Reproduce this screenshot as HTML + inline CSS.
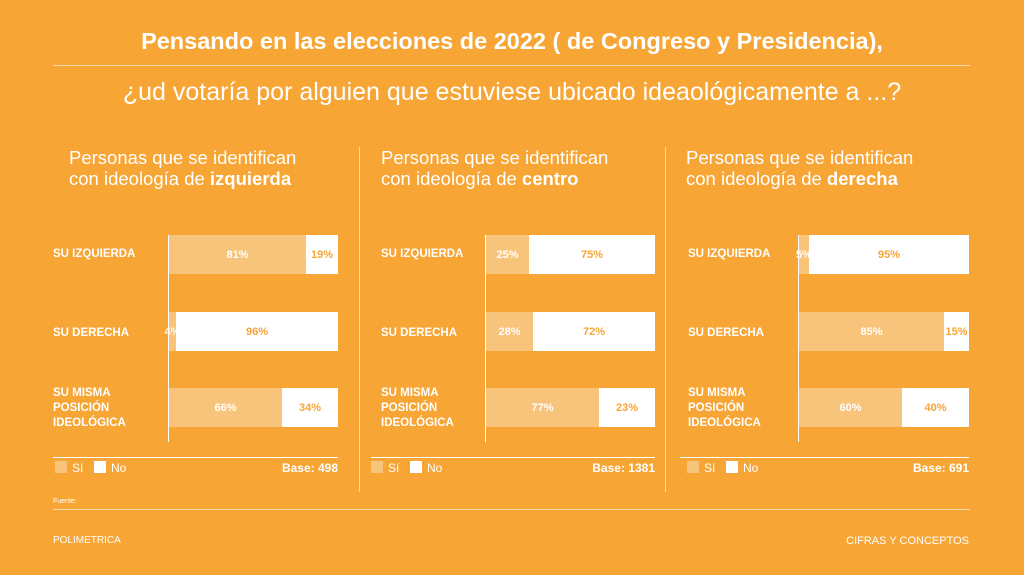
<!DOCTYPE html>
<html><head><meta charset="utf-8"><style>
*{margin:0;padding:0;box-sizing:border-box}
body{width:1024px;height:575px;background:#F7A535;font-family:"Liberation Sans",sans-serif;color:#fff;position:relative;overflow:hidden}
.a{position:absolute}
.hl{position:absolute;height:1px;background:#FBD9A8}
.vl{position:absolute;width:1px;background:#FBD9A8}
.t1{left:0;width:1024px;text-align:center;top:28px;font-size:23.5px;font-weight:bold}
.t2{left:0;width:1024px;text-align:center;top:78px;font-size:25px}
.hd{font-size:18.5px;line-height:21px;top:147px}
.lb{font-size:11.5px;font-weight:bold;line-height:15px}
.seg{position:absolute;height:39px;font-size:11px;font-weight:bold;display:flex;align-items:center;justify-content:center;white-space:nowrap}
.si{background:#F8C47C;color:#fff}
.no{background:#fff;color:#F7A535}
.lg{font-size:12px;top:461px}
.sq{position:absolute;width:12px;height:12px;top:461px}
</style></head><body>
<div class="a t1">Pensando en las elecciones de 2022 ( de Congreso y Presidencia),</div>
<div class="hl" style="left:53px;width:917px;top:65px"></div>
<div class="a t2">¿ud votaría por alguien que estuviese ubicado ideaológicamente a ...?</div>

<div class="vl" style="left:359px;top:147px;height:345px"></div>
<div class="vl" style="left:665px;top:147px;height:345px"></div>

<!-- Panel 1 -->
<div class="a hd" style="left:69px">Personas que se identifican<br>con ideología de <b>izquierda</b></div>
<div class="vl" style="left:168px;top:235px;height:207px;background:#fff"></div>
<div class="a lb" style="left:53px;top:247px">SU IZQUIERDA</div>
<div class="a lb" style="left:53px;top:326px">SU DERECHA</div>
<div class="a lb" style="left:53px;top:386px">SU MISMA<br>POSICIÓN<br>IDEOLÓGICA</div>
<div class="seg si" style="left:169px;width:137px;top:235px">81%</div>
<div class="seg no" style="left:306px;width:32px;top:235px">19%</div>
<div class="seg si" style="left:169px;width:7px;top:312px">4%</div>
<div class="seg no" style="left:176px;width:162px;top:312px">96%</div>
<div class="seg si" style="left:169px;width:113px;top:388px">66%</div>
<div class="seg no" style="left:282px;width:56px;top:388px">34%</div>
<div class="hl" style="left:53px;width:285px;top:457px;background:#fff"></div>
<div class="sq" style="left:55px;background:#F8C47C"></div><div class="a lg" style="left:72px">Sí</div>
<div class="sq" style="left:94px;background:#fff"></div><div class="a lg" style="left:111px">No</div>
<div class="a lg" style="left:238px;width:100px;text-align:right;font-weight:bold">Base: 498</div>

<!-- Panel 2 -->
<div class="a hd" style="left:381px">Personas que se identifican<br>con ideología de <b>centro</b></div>
<div class="vl" style="left:485px;top:235px;height:207px;background:#fff"></div>
<div class="a lb" style="left:381px;top:247px">SU IZQUIERDA</div>
<div class="a lb" style="left:381px;top:326px">SU DERECHA</div>
<div class="a lb" style="left:381px;top:386px">SU MISMA<br>POSICIÓN<br>IDEOLÓGICA</div>
<div class="seg si" style="left:486px;width:43px;top:235px">25%</div>
<div class="seg no" style="left:529px;width:126px;top:235px">75%</div>
<div class="seg si" style="left:486px;width:47px;top:312px">28%</div>
<div class="seg no" style="left:533px;width:122px;top:312px">72%</div>
<div class="seg si" style="left:486px;width:113px;top:388px">77%</div>
<div class="seg no" style="left:599px;width:56px;top:388px">23%</div>
<div class="hl" style="left:371px;width:284px;top:457px;background:#fff"></div>
<div class="sq" style="left:371px;background:#F8C47C"></div><div class="a lg" style="left:388px">Sí</div>
<div class="sq" style="left:410px;background:#fff"></div><div class="a lg" style="left:427px">No</div>
<div class="a lg" style="left:555px;width:100px;text-align:right;font-weight:bold">Base: 1381</div>

<!-- Panel 3 -->
<div class="a hd" style="left:686px">Personas que se identifican<br>con ideología de <b>derecha</b></div>
<div class="vl" style="left:798px;top:235px;height:207px;background:#fff"></div>
<div class="a lb" style="left:688px;top:247px">SU IZQUIERDA</div>
<div class="a lb" style="left:688px;top:326px">SU DERECHA</div>
<div class="a lb" style="left:688px;top:386px">SU MISMA<br>POSICIÓN<br>IDEOLÓGICA</div>
<div class="seg si" style="left:799px;width:10px;top:235px">5%</div>
<div class="seg no" style="left:809px;width:160px;top:235px">95%</div>
<div class="seg si" style="left:799px;width:145px;top:312px">85%</div>
<div class="seg no" style="left:944px;width:25px;top:312px">15%</div>
<div class="seg si" style="left:799px;width:103px;top:388px">60%</div>
<div class="seg no" style="left:902px;width:67px;top:388px">40%</div>
<div class="hl" style="left:680px;width:289px;top:457px;background:#fff"></div>
<div class="sq" style="left:687px;background:#F8C47C"></div><div class="a lg" style="left:704px">Sí</div>
<div class="sq" style="left:726px;background:#fff"></div><div class="a lg" style="left:743px">No</div>
<div class="a lg" style="left:869px;width:100px;text-align:right;font-weight:bold">Base: 691</div>

<div class="a" style="left:53px;top:498px;font-size:7px">Fuente:</div>
<div class="hl" style="left:53px;width:917px;top:509px"></div>
<div class="a" style="left:53px;top:535px;font-size:10px">POLIMETRICA</div>
<div class="a" style="left:669px;width:300px;text-align:right;top:535px;font-size:11px">CIFRAS Y CONCEPTOS</div>
</body></html>
